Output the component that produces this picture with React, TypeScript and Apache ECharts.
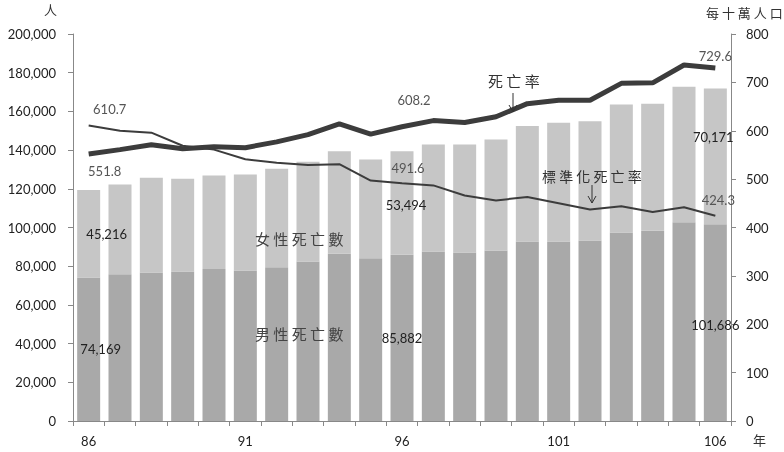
import React, { useEffect, useRef } from "react";
import * as echarts from "echarts";

const years = ["86", "87", "88", "89", "90", "91", "92", "93", "94", "95", "96", "97", "98", "99", "100", "101", "102", "103", "104", "105", "106"];
const maleDeaths = [74169, 75900, 76700, 77300, 78500, 77800, 79500, 82400, 86400, 84100, 85882, 87600, 87100, 88100, 92800, 92800, 93300, 97400, 98300, 102700, 101686];
const femaleDeaths = [45216, 46300, 49000, 47900, 48400, 49600, 50800, 51600, 53000, 51000, 53494, 55300, 55800, 57400, 59600, 61300, 61600, 66200, 65600, 70000, 70171];
const deathRate = [551.8, 561, 571, 563, 567, 565, 577, 592, 614, 593, 608.2, 621, 617, 629, 656, 663, 663, 698, 699, 736, 729.6];
const stdDeathRate = [610.7, 600, 596, 569, 561, 541, 534, 529, 531, 497, 491.6, 487, 466, 456, 463, 450, 437, 444, 432, 442, 424.3];
const labelled = [0, 10, 20];

const numFont = "Lato, 'Open Sans', sans-serif";
const cjkFont = "'Noto Sans CJK TC', sans-serif";
const fmt = (v: number) => v.toLocaleString("en-US");

// attach a value label to the 86 / 96 / 106 points
function withLabels(values: number[], positions: string[], offsets: number[][], color: string) {
  return values.map((v, i) => {
    const k = labelled.indexOf(i);
    if (k < 0) return v;
    return {
      value: v,
      label: {
        show: true,
        position: positions[k],
        offset: offsets[k],
        formatter: (p: any) => fmt(p.value),
        color,
        fontSize: 13,
        fontFamily: numFont,
      },
    };
  });
}

function arrow(x: number, y1: number, y2: number) {
  return [
    { type: "line", z: 100, shape: { x1: x, y1, x2: x, y2 }, style: { stroke: "#333", lineWidth: 1 } },
    {
      type: "polyline",
      z: 100,
      shape: { points: [[x - 4, y2 - 7], [x, y2], [x + 4, y2 - 7]] },
      style: { stroke: "#333", lineWidth: 1, fill: null },
    },
  ];
}

function note(text: string, left: number, top: number, size: number, fill = "#444") {
  return { type: "text", z: 100, left, top, style: { text, fontSize: size, fill, fontFamily: cjkFont } };
}

export default function App() {
  const ref = useRef<HTMLDivElement | null>(null);

  useEffect(() => {
    if (!ref.current) return;
    const chart = echarts.init(ref.current, null, { renderer: "svg" });
    const axisLine = { show: true, lineStyle: { color: "#888", width: 1 } };
    const option = {
      animation: false,
      grid: { left: 73, right: 53, top: 34, bottom: 31 },
      xAxis: {
        type: "category",
        data: years,
        axisLine,
        axisTick: { show: true, interval: 0, length: 5, lineStyle: { color: "#888" } },
        axisLabel: { interval: 4, margin: 13, color: "#222", fontSize: 13, fontFamily: numFont },
      },
      yAxis: [
        {
          type: "value",
          min: 0,
          max: 200000,
          interval: 20000,
          axisLine,
          axisTick: { show: true, length: 5, lineStyle: { color: "#888" } },
          splitLine: { show: false },
          axisLabel: { margin: 17, color: "#222", fontSize: 13, fontFamily: numFont, formatter: fmt },
        },
        {
          type: "value",
          min: 0,
          max: 800,
          interval: 100,
          position: "right",
          axisLine,
          axisTick: { show: true, length: 5, lineStyle: { color: "#888" } },
          splitLine: { show: false },
          axisLabel: { margin: 15, color: "#222", fontSize: 13, fontFamily: numFont },
        },
      ],
      series: [
        {
          name: "男性死亡數",
          type: "bar",
          stack: "deaths",
          barWidth: 23,
          itemStyle: { color: "#a9a9a9" },
          data: withLabels(maleDeaths, ["inside", "inside", "inside"], [[12, 0], [0, 0], [0, 2]], "#222"),
        },
        {
          name: "女性死亡數",
          type: "bar",
          stack: "deaths",
          barWidth: 23,
          itemStyle: { color: "#c6c6c6" },
          data: withLabels(femaleDeaths, ["inside", "inside", "inside"], [[18, 0], [4, 2], [-2, -19]], "#222"),
        },
        {
          name: "死亡率",
          type: "line",
          yAxisIndex: 1,
          symbol: "circle",
          symbolSize: 0,
          showSymbol: true,
          lineStyle: { color: "#3c3c3c", width: 5 },
          data: withLabels(deathRate, ["bottom", "top", "top"], [[16, 5], [12, -15], [0, -1]], "#555"),
        },
        {
          name: "標準化死亡率",
          type: "line",
          yAxisIndex: 1,
          symbol: "circle",
          symbolSize: 0,
          showSymbol: true,
          lineStyle: { color: "#3c3c3c", width: 2 },
          data: withLabels(stdDeathRate, ["top", "top", "top"], [[21, -5], [6, -4], [3, -4]], "#555"),
        },
      ],
      graphic: [
        note("人", 44, 3, 13, "#333"),
        note("每 十 萬 人 口", 706, 6, 13, "#333"),
        note("年", 753, 433, 13, "#333"),
        note("女 性 死 亡 數", 255, 231, 15),
        note("男 性 死 亡 數", 255, 326, 15),
        note("死 亡 率", 488, 73, 15, "#333"),
        note("標 準 化 死 亡 率", 542, 169, 14, "#333"),
        ...arrow(513, 93, 112),
        ...arrow(592, 185, 203),
      ],
    };
    chart.setOption(option as any);
    return () => chart.dispose();
  }, []);

  return <div ref={ref} style={{ position: "fixed", left: 0, top: 0, width: 784, height: 452 }} />;
}
